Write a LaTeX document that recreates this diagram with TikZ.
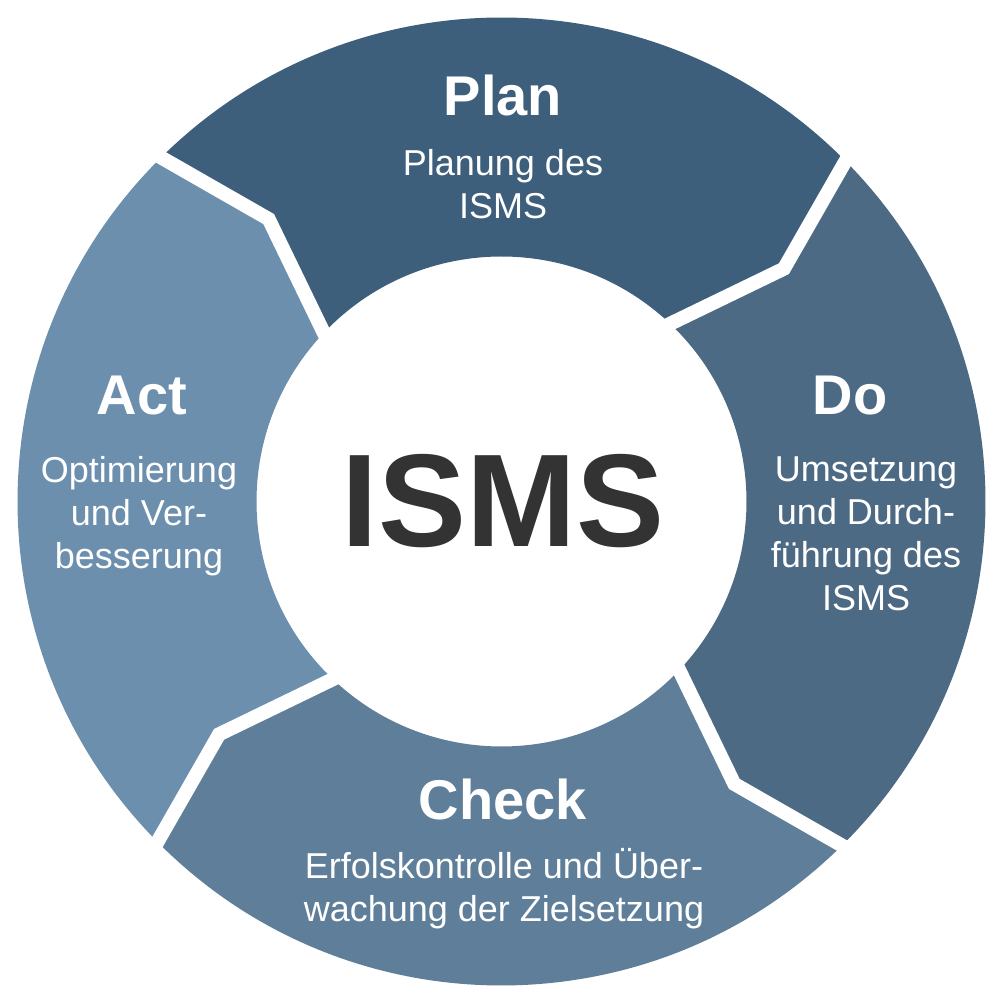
\documentclass[tikz,border=0pt]{standalone}
\usepackage{fontspec}
\setmainfont{Liberation Sans}
\usetikzlibrary{calc}
\definecolor{cplan}{HTML}{3E5F7B}
\definecolor{cdo}{HTML}{4D6A85}
\definecolor{ccheck}{HTML}{5F7E99}
\definecolor{cact}{HTML}{6B8FAD}
\definecolor{cisms}{HTML}{333333}
\tikzset{
  gapline/.style={draw=white, line width=7pt, line join=miter},
  titletext/.style={text=white, inner sep=0pt, anchor=base, font=\fontsize{28}{34}\selectfont\bfseries},
  bodytext/.style={text=white, inner sep=0pt, anchor=north, align=center, font=\fontsize{18}{21.5}\selectfont},
  centertext/.style={text=cisms, inner sep=0pt, anchor=base, font=\fontsize{66}{70}\selectfont\bfseries}
}
\begin{document}
\begin{tikzpicture}[x=0.5pt,y=0.5pt]
\useasboundingbox[fill=white] (0,0) rectangle (1004,1004);
\coordinate (C) at (501.5,502.5);
% ring segments (trailing gap angle / colour)
\foreach \t/\col in {135/cplan,45/cdo,-45/ccheck,-135/cact}{
  \fill[\col] ($(C)+({\t-0.3}:484)$) arc[start angle=\t-0.3, end angle=\t-90.3, radius=484]
    -- ($(C)+({\t-95.5}:366)$) -- ($(C)+({\t-88.5}:245)$)
    arc[start angle=\t-88.5, end angle=\t+1.5, radius=245]
    -- ($(C)+({\t-5.5}:366)$) -- cycle;
}
% white gaps between the segments
\foreach \t/\n in {45/a,135/b,225/c,315/d}{
  \coordinate (o\n) at ($(C)+({\t-0.3}:484)$);
  \coordinate (k\n) at ($(C)+({\t-5.5}:366)$);
  \coordinate (i\n) at ($(C)+({\t+1.5}:245)$);
  \draw[gapline] ($(k\n)!1.2!(o\n)$) -- (k\n) -- ($(k\n)!1.2!(i\n)$);
}
% texts
\node[centertext] (isms) at (503,457) {ISMS};
\node[titletext] (plan) at (503,888) {Plan};
\node[bodytext] (planb) at (503,855) {Planung des\\ISMS};
\node[titletext] (do) at (850,589) {Do};
\node[bodytext] (dob) at (866,548) {Umsetzung\\und Durch-\\führung des\\ISMS};
\node[titletext] (check) at (503,184) {Check};
\node[bodytext] (checkb) at (504,156) {Erfolskontrolle und Über-\\wachung der Zielsetzung};
\node[titletext] (act) at (142,589) {Act};
\node[bodytext] (actb) at (139,548) {Optimierung\\und Ver-\\besserung};
\end{tikzpicture}
\end{document}
